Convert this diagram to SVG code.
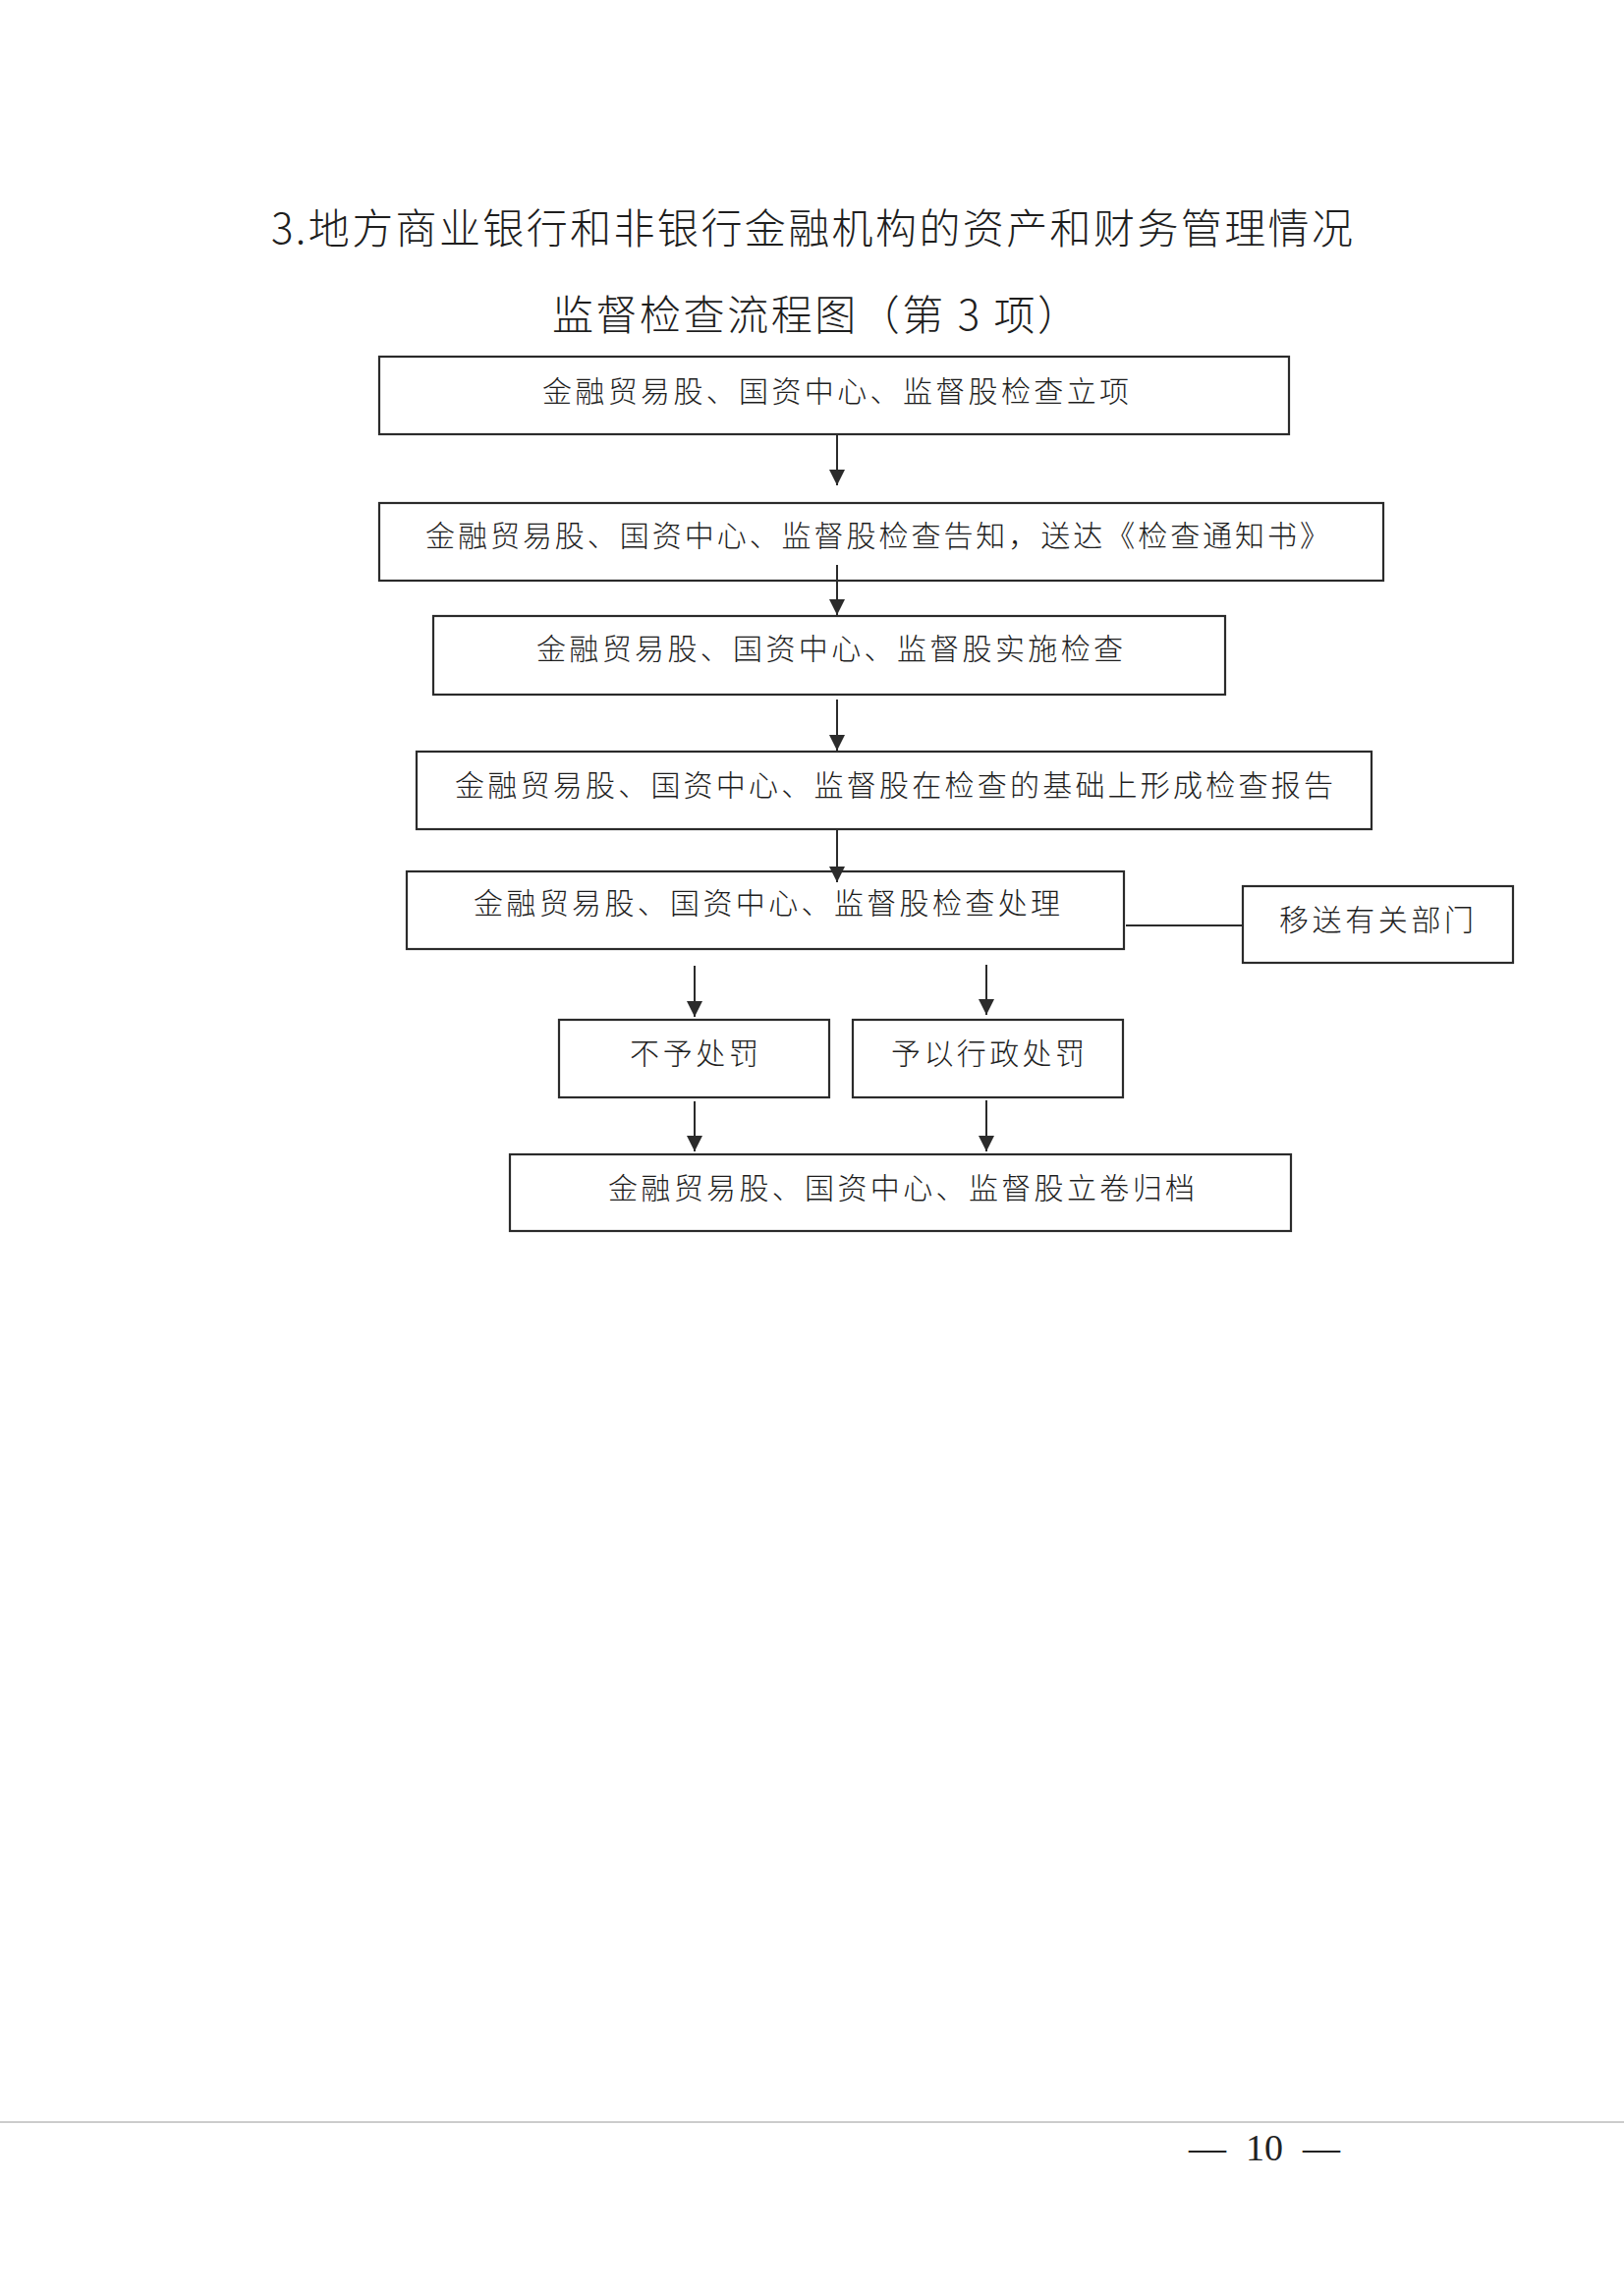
<svg xmlns="http://www.w3.org/2000/svg" width="1653" height="2336" viewBox="0 0 1653 2336">
<style>
  .bg { fill: #ffffff; }
  .box { fill: none; stroke: #2b2b2b; stroke-width: 2.2; }
  .t { font-family: "Noto Sans CJK SC", "Noto Sans", sans-serif; font-size: 30px; font-weight: 300; fill: #1e1e1e; }
  .title { font-family: "Noto Sans CJK SC", "Noto Sans", sans-serif; font-size: 42px; font-weight: 300; fill: #1e1e1e; }
  .conn { stroke: #2b2b2b; stroke-width: 2; fill: none; }
  .pn { font-family: "Liberation Serif", "DejaVu Serif", serif; font-size: 38px; fill: #222; }
</style>
<defs>
  <marker id="arr" markerUnits="userSpaceOnUse" markerWidth="16" markerHeight="16" refX="16" refY="8" orient="auto">
    <path d="M0,0 L16,8 L0,16 z" fill="#2b2b2b"/>
  </marker>
</defs>
<rect class="bg" x="0" y="0" width="1653" height="2336"/>

<g id="title">
  <text class="title" x="276" y="248" textLength="1101" lengthAdjust="spacing">3.地方商业银行和非银行金融机构的资产和财务管理情况</text>
  <text class="title" x="562" y="336" textLength="536" lengthAdjust="spacing">监督检查流程图（第 3 项）</text>
</g>

<g id="n1">
  <rect class="box" x="386" y="363" width="926" height="79"/>
  <text class="t" x="552" y="409" textLength="597" lengthAdjust="spacing">金融贸易股、国资中心、监督股检查立项</text>
</g>
<g id="n2">
  <rect class="box" x="386" y="512" width="1022" height="79"/>
  <text class="t" x="433" y="556" textLength="920" lengthAdjust="spacing">金融贸易股、国资中心、监督股检查告知，送达《检查通知书》</text>
</g>
<g id="n3">
  <rect class="box" x="441" y="627" width="806" height="80"/>
  <text class="t" x="546" y="671" textLength="597" lengthAdjust="spacing">金融贸易股、国资中心、监督股实施检查</text>
</g>
<g id="n4">
  <rect class="box" x="424" y="765" width="972" height="79"/>
  <text class="t" x="463" y="810" textLength="894" lengthAdjust="spacing">金融贸易股、国资中心、监督股在检查的基础上形成检查报告</text>
</g>
<g id="n5">
  <rect class="box" x="414" y="887" width="730" height="79"/>
  <text class="t" x="482" y="930" textLength="597" lengthAdjust="spacing">金融贸易股、国资中心、监督股检查处理</text>
</g>
<g id="n6">
  <rect class="box" x="1265" y="902" width="275" height="78"/>
  <text class="t" x="1302" y="947" textLength="198" lengthAdjust="spacing">移送有关部门</text>
</g>
<g id="n7">
  <rect class="box" x="569" y="1038" width="275" height="79"/>
  <text class="t" x="641" y="1083" textLength="131" lengthAdjust="spacing">不予处罚</text>
</g>
<g id="n8">
  <rect class="box" x="868" y="1038" width="275" height="79"/>
  <text class="t" x="907" y="1083" textLength="197" lengthAdjust="spacing">予以行政处罚</text>
</g>
<g id="n9">
  <rect class="box" x="519" y="1175" width="795" height="78"/>
  <text class="t" x="619" y="1220" textLength="597" lengthAdjust="spacing">金融贸易股、国资中心、监督股立卷归档</text>
</g>

<g id="connectors">
  <line class="conn" x1="852" y1="442" x2="852" y2="494" marker-end="url(#arr)"/>
  <line class="conn" x1="852" y1="575" x2="852" y2="626" marker-end="url(#arr)"/>
  <line class="conn" x1="852" y1="712" x2="852" y2="764" marker-end="url(#arr)"/>
  <line class="conn" x1="852" y1="845" x2="852" y2="898" marker-end="url(#arr)"/>
  <line class="conn" x1="707" y1="983" x2="707" y2="1035" marker-end="url(#arr)"/>
  <line class="conn" x1="1004" y1="982" x2="1004" y2="1033" marker-end="url(#arr)"/>
  <line class="conn" x1="707" y1="1121" x2="707" y2="1172" marker-end="url(#arr)"/>
  <line class="conn" x1="1004" y1="1120" x2="1004" y2="1172" marker-end="url(#arr)"/>
  <line class="conn" x1="1146" y1="942" x2="1265" y2="942"/>
</g>

<g id="footer">
  <line x1="0" y1="2160" x2="1653" y2="2160" stroke="#9a9a9a" stroke-width="1.2"/>
  <text class="pn" y="2199"><tspan x="1210">—</tspan><tspan x="1268">10</tspan><tspan x="1326">—</tspan></text>
</g>
</svg>
